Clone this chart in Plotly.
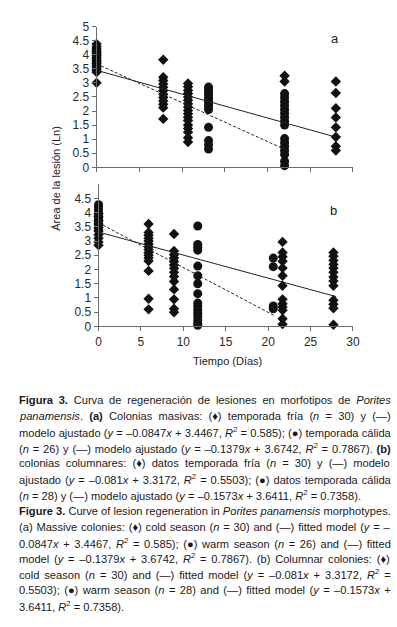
import re
import plotly.graph_objects as go

# ---------------- data ----------------
# Panel a (massive colonies)
a_cold_days = [0, 7.8, 10.7, 22, 28]
a_cold_vals = [
    [3.0, 3.38, 3.45, 3.52, 3.6, 3.68, 3.75, 3.82, 3.9, 3.97, 4.05, 4.12, 4.2, 4.28, 4.38],
    [3.82, 3.2, 3.08, 2.96, 2.84, 2.72, 2.6, 2.48, 2.36, 2.24, 2.12, 1.72],
    [2.98, 2.86, 2.74, 2.62, 2.5, 2.38, 2.26, 2.14, 2.02, 1.9, 1.78, 1.66, 1.5, 1.38, 1.25, 1.05, 0.9],
    [3.25, 3.05],
    [3.05, 2.64, 2.1, 1.77, 1.42, 1.08, 0.75, 0.6],
]
a_warm_days = [0, 13.1, 22]
a_warm_vals = [
    [3.5, 3.6, 3.7, 3.8, 3.9, 4.0, 4.1, 4.2],
    [2.85, 2.75, 2.65, 2.55, 2.45, 2.35, 2.25, 2.15, 2.05, 1.42, 0.95, 0.8, 0.65],
    [2.62, 2.48, 2.34, 2.2, 2.06, 1.92, 1.78, 1.64, 1.5, 1.02, 0.88, 0.74, 0.6, 0.46, 0.22, 0.06],
]
# Panel b (columnar colonies)
b_cold_days = [0, 5.9, 8.9, 21.7, 27.7]
b_cold_vals = [
    [2.85, 2.97, 3.1, 3.22, 3.35, 3.47, 3.6, 3.72, 3.85, 3.97],
    [3.6, 3.3, 3.2, 3.1, 3.0, 2.9, 2.8, 2.7, 2.6, 2.5, 2.4, 2.3, 1.95, 0.97, 0.6],
    [3.25, 2.65, 2.52, 2.4, 2.28, 2.16, 2.04, 1.9, 1.75, 1.58, 1.3, 0.95, 0.62, 0.5],
    [2.97, 2.6, 2.45, 2.29, 2.05, 1.78, 1.43, 0.95, 0.8, 0.68, 0.57, 0.27, 0.08],
    [2.6, 2.47, 2.32, 2.18, 2.05, 1.9, 1.74, 1.6, 1.43, 0.92, 0.78, 0.64, 0.06],
]
b_warm_days = [0, 11.7, 20.6]
b_warm_vals = [
    [3.4, 3.5, 3.6, 3.7, 3.8, 3.9, 4.0, 4.1, 4.2, 4.28],
    [3.53, 2.88, 2.78, 2.68, 2.12, 1.78, 1.5, 1.15, 0.82, 0.7, 0.58, 0.46, 0.34, 0.22, 0.1, 0.04],
    [2.4, 2.1, 0.72, 0.62],
]

# fitted models: slope, intercept, last day
fit_slopes = {"a_cold": -0.0847, "a_warm": -0.1379, "b_cold": -0.081, "b_warm": -0.1573}
fit_inters = {"a_cold": 3.4467, "a_warm": 3.6742, "b_cold": 3.3172, "b_warm": 3.6411}
fit_end = {"a_cold": 28, "a_warm": 22, "b_cold": 28, "b_warm": 20.7}

x_ticks = [0, 5, 10, 15, 20, 25, 30]
ya_ticks = [0, 0.5, 1, 1.5, 2, 2.5, 3, 3.5, 4, 4.5, 5]
yb_ticks = [0, 0.5, 1, 1.5, 2, 2.5, 3, 3.5, 4, 4.5]

caption_lines = [
    "<b>Figura 3.</b> Curva de regeneración de lesiones en morfotipos de <i>Porites</i>",
    "<i>panamensis</i>. <b>(a)</b> Colonias masivas: (♦) temporada fría (<i>n</i> = 30) y (—)",
    "modelo ajustado (<i>y</i> = –0.0847<i>x</i> + 3.4467, <i>R</i><sup>2</sup> = 0.585); (●) temporada cálida",
    "(<i>n</i> = 26) y (—) modelo ajustado (<i>y</i> = –0.1379<i>x</i> + 3.6742, <i>R</i><sup>2</sup> = 0.7867). <b>(b)</b>",
    "colonias columnares: (♦) datos temporada fría (<i>n</i> = 30) y (—) modelo",
    "ajustado (<i>y</i> = –0.081<i>x</i> + 3.3172, <i>R</i><sup>2</sup> = 0.5503); (●) datos temporada cálida",
    "(<i>n</i> = 28) y (—) modelo ajustado (<i>y</i> = –0.1573<i>x</i> + 3.6411, <i>R</i><sup>2</sup> = 0.7358).",
    "<b>Figure 3.</b> Curve of lesion regeneration in <i>Porites panamensis</i> morphotypes.",
    "(a) Massive colonies: (♦) cold season (<i>n</i> = 30) and (—) fitted model (<i>y</i> = –",
    "0.0847<i>x</i> + 3.4467, <i>R</i><sup>2</sup> = 0.585); (●) warm season (<i>n</i> = 26) and (—) fitted",
    "model (<i>y</i> = –0.1379<i>x</i> + 3.6742, <i>R</i><sup>2</sup> = 0.7867). (b) Columnar colonies: (♦)",
    "cold season (<i>n</i> = 30) and (—) fitted model (<i>y</i> = –0.081<i>x</i> + 3.3172, <i>R</i><sup>2</sup> =",
    "0.5503); (●) warm season (<i>n</i> = 28) and (—) fitted model (<i>y</i> = –0.1573<i>x</i> +",
    "3.6411, <i>R</i><sup>2</sup> = 0.7358).",
]
caption_last_lines = {6, 13}  # paragraph ends: not justified

# ---------------- figure ----------------
W, H = 397, 627
INK = "#111111"
AX = "#6a6a6a"
FONT = "Liberation Sans, Arial, sans-serif"


def px(x):
    return x / W


def py(y):
    return 1 - y / H


def flat(days, vals):
    xs, ys = [], []
    for d, vs in zip(days, vals):
        for v in vs:
            xs.append(d)
            ys.append(v)
    return xs, ys


# Arial / Liberation Sans advance widths (per 1000 em) for justification
_REG = dict(zip("abcdefghijklmnopqrstuvwxyz",
                [556, 556, 500, 556, 556, 278, 556, 556, 222, 222, 500, 222, 833,
                 556, 556, 556, 556, 333, 500, 278, 556, 500, 722, 500, 500, 500]))
_REG.update(dict(zip("ABCDEFGHIJKLMNOPQRSTUVWXYZ",
                     [667, 667, 722, 722, 667, 611, 778, 722, 278, 500, 667, 556, 833,
                      722, 778, 667, 778, 722, 667, 611, 722, 667, 944, 667, 667, 611])))
_REG.update({c: 556 for c in "0123456789"})
_REG.update({" ": 278, ".": 278, ",": 278, ":": 278, ";": 278, "(": 333, ")": 333,
             "=": 584, "+": 584, "–": 556, "—": 1000, "♦": 604, "●": 604,
             "á": 556, "é": 556, "í": 278, "ó": 556, "ú": 556})
_BOLD = dict(_REG)
_BOLD.update({"b": 611, "d": 611, "g": 611, "h": 611, "n": 611, "o": 611, "p": 611,
              "q": 611, "u": 611, "c": 556, "f": 333, "i": 278, "l": 278, "r": 389,
              "s": 556, "t": 333, "m": 889, "F": 611})


def width_em(s):
    bold = sup = False
    w = 0.0
    for tok in re.split(r"(<[^>]+>)", s):
        if tok.startswith("<"):
            name = tok.strip("<>").strip()
            on = not name.startswith("/")
            name = name.lstrip("/")
            if name == "b":
                bold = on
            elif name == "sup":
                sup = on
            continue
        for ch in tok:
            w += (_BOLD if bold else _REG).get(ch, 556) * (0.7 if sup else 1.0)
    return w / 1000.0


fig = go.Figure()

for panel, (xa, ya) in {"a": ("x", "y"), "b": ("x2", "y2")}.items():
    wd, wv = (a_warm_days, a_warm_vals) if panel == "a" else (b_warm_days, b_warm_vals)
    cd, cv = (a_cold_days, a_cold_vals) if panel == "a" else (b_cold_days, b_cold_vals)
    xs, ys = flat(wd, wv)
    fig.add_trace(go.Scatter(x=xs, y=ys, mode="markers", xaxis=xa, yaxis=ya, cliponaxis=False,
                             marker=dict(symbol="circle", size=9, color=INK, line=dict(width=0))))
    xs, ys = flat(cd, cv)
    fig.add_trace(go.Scatter(x=xs, y=ys, mode="markers", xaxis=xa, yaxis=ya, cliponaxis=False,
                             marker=dict(symbol="diamond", size=8, color=INK, line=dict(width=0))))
    for season, dash in (("cold", "solid"), ("warm", "3px,2px")):
        key = f"{panel}_{season}"
        x_line = [0, fit_end[key]]
        y_line = [fit_slopes[key] * xv + fit_inters[key] for xv in x_line]
        fig.add_trace(go.Scatter(x=x_line, y=y_line, mode="lines", xaxis=xa, yaxis=ya,
                                 line=dict(color="#222222", width=1, dash=dash)))

axis_common = dict(showline=True, linecolor=AX, linewidth=1, ticks="outside", ticklen=4,
                   tickcolor=AX, tickwidth=1, showgrid=False, zeroline=False,
                   tickfont=dict(family=FONT, size=12, color="#2a2a2a"))

fig.update_layout(
    width=W, height=H, margin=dict(l=0, r=0, t=0, b=0),
    paper_bgcolor="white", plot_bgcolor="white", showlegend=False,
    xaxis=dict(domain=[px(96), px(359)], range=[0, 30], tickvals=x_ticks,
               showticklabels=False, anchor="y", **axis_common),
    yaxis=dict(domain=[py(164), py(20)], range=[0, 5], tickvals=ya_ticks,
               ticktext=[f"{t:g}" for t in ya_ticks], anchor="x", **axis_common),
    xaxis2=dict(domain=[px(98), px(359)], range=[0, 30], tickvals=x_ticks,
                anchor="y2", **axis_common),
    yaxis2=dict(domain=[py(326.7), py(181.2)], range=[0, 5], tickvals=yb_ticks,
                anchor="x2", **axis_common),
)

annos = [
    dict(text="a", x=px(341), y=py(32), font=dict(size=13)),
    dict(text="b", x=px(339), y=py(208), font=dict(size=13)),
    dict(text="Tiempo (Días)", x=px(230), y=py(362), font=dict(size=11)),
    dict(text="Área de la lesión (Ln)", x=px(54), y=py(175), font=dict(size=11), textangle=-90),
]
for a in annos:
    a["font"].update(family=FONT, color="#222222")
    fig.add_annotation(xref="paper", yref="paper", showarrow=False, xanchor="center",
                       yanchor="middle", **a)

# caption: justified between x=14 and x=386
cap_left, cap_right = 14, 386
cap_width = cap_right - cap_left
cap_y0, cap_dy = 402, 16.2
cap_fs = min(12.5, min(cap_width / width_em(l) for l in caption_lines))
for i, line in enumerate(caption_lines):
    text = line
    if i not in caption_last_lines:
        n_sp = re.sub(r"<[^>]+>", "", line).count(" ")
        extra = (cap_width - width_em(line) * cap_fs) / max(n_sp, 1)
        text = f'<span style="word-spacing:{extra:.2f}px">{line}</span>'
    fig.add_annotation(xref="paper", yref="paper", showarrow=False, xanchor="left",
                       yanchor="middle", x=px(cap_left), y=py(cap_y0 + i * cap_dy), text=text,
                       font=dict(family=FONT, size=cap_fs, color="#1a1a1a"), align="left")

fig.write_html("out.html", post_script="document.body.style.margin='0';",
               config={"displayModeBar": False})
